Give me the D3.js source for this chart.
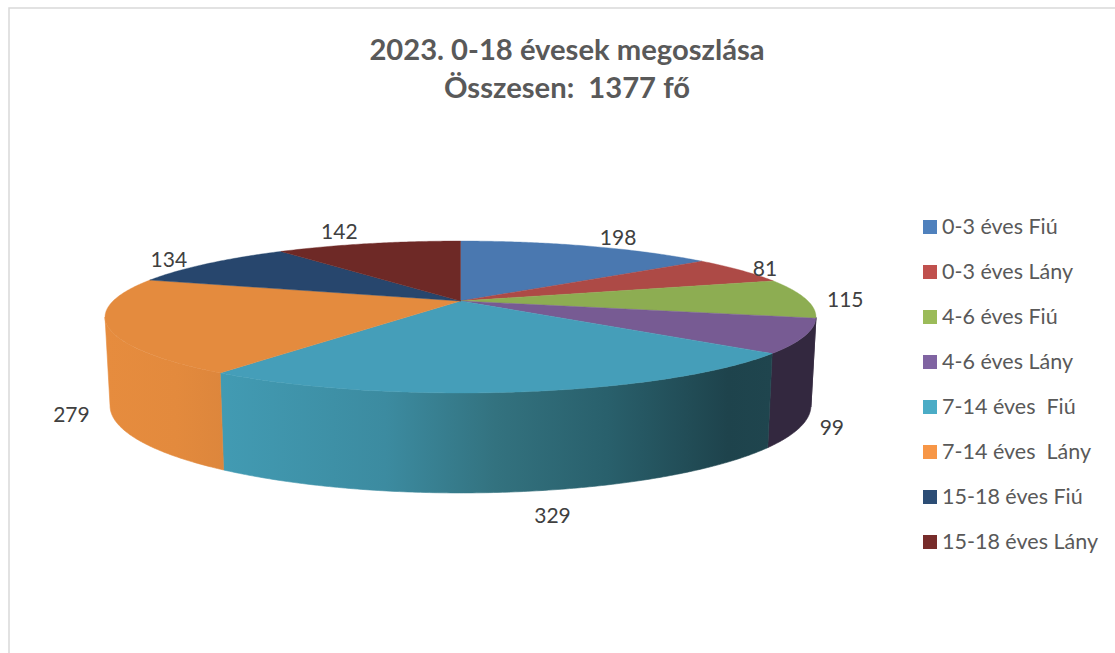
<!DOCTYPE html>
<html lang="hu">
<head>
  <meta charset="UTF-8">
  <title>2023. 0-18 évesek megoszlása</title>
  <script src="https://d3js.org/d3.v7.min.js"></script>
  <style>
    body { background: #fff; margin: 0; }
    svg { display: block; font-family: Lato, "Open Sans", sans-serif; }
    text { white-space: pre; }
    .frame { fill: none; stroke: #d9d9d9; stroke-width: 1.5; }
    .title { font-size: 29.2px; font-weight: 700; fill: #595959; text-anchor: middle; }
    .value { font-size: 21px; fill: #404040; text-anchor: middle; dominant-baseline: central; }
    .legend-label { font-size: 21.5px; fill: #595959; dominant-baseline: central; }
  </style>
</head>
<body>
  <svg width="1115" height="653"></svg>

  <script>
    const categories = ["0-3 éves Fiú", "0-3 éves Lány", "4-6 éves Fiú", "4-6 éves Lány",
      "7-14 éves  Fiú", "7-14 éves  Lány", "15-18 éves Fiú", "15-18 éves Lány"];
    const values = [198, 81, 115, 99, 329, 279, 134, 142];
    const titleLines = ["2023. 0-18 évesek megoszlása", "Összesen:  1377 fő"];

    const topColors = ["#4a78b0", "#ad4a46", "#8dad52", "#775b93", "#459eb9", "#e48b3e", "#27466d", "#6e2926"];
    const legendColors = ["#4f81bd", "#c0504d", "#9bbb59", "#8064a2", "#4bacc6", "#f79646", "#2c4d75", "#772c2a"];

    const svg = d3.select("svg");
    const defs = svg.append("defs");

    // frame of the chart, only top and left are in the shot
    svg.append("path").attr("class", "frame").attr("d", "M9,653V8H1115");

    svg.selectAll(".title")
      .data(titleLines)
      .enter()
      .append("text")
      .attr("class", "title")
      .attr("x", 567)
      .attr("y", (d, i) => 60 + i * 38)
      .text(d => d);

    // Perspective of the pie: far side is squeezed by k
    const k = 0.2105;
    const cx = 460.5;
    const topFace = { a: 347.5, b: 72.6, y0: 301 };
    const bottomFace = { a: 342.6, b: 83.4, y0: 387.3 };
    const project = (face, angle) => {
      const den = 1 + k * Math.cos(angle);
      return [cx + face.a * Math.sin(angle) / den, face.y0 - face.b * Math.cos(angle) / den];
    };

    const slices = d3.pie().sort(null)(values);
    const line = d3.line();
    const color = d3.scaleOrdinal(categories, topColors);

    const arcPoints = (face, a0, a1) => {
      const n = Math.max(2, Math.ceil((a1 - a0) / 0.01));
      return d3.range(n + 1).map(i => project(face, a0 + (a1 - a0) * i / n));
    };

    // Only this part of the rim looks towards the viewer
    const rimStart = Math.acos(-k);
    const rimEnd = 2 * Math.PI - rimStart;

    // Shading of the rim, lit on the left and dark on the right
    const rimFills = { 2: [[0, "#33283f"], [1, "#33283f"]],
      3: [[0, "#33283f"], [1, "#33283f"]],
      4: [[0, "#429bb3"], [0.3, "#3c8ba0"], [0.5, "#33727f"], [0.7, "#29606c"], [0.92, "#1e434c"], [1, "#1f454e"]],
      5: [[0, "#e68c3e"], [0.6, "#e38a3d"], [1, "#dd863c"]] };

    slices.forEach((s, i) => {
      const a0 = Math.max(s.startAngle, rimStart);
      const a1 = Math.min(s.endAngle, rimEnd);
      if (a1 <= a0) return;

      const upper = arcPoints(topFace, a0, a1);
      const lower = arcPoints(bottomFace, a0, a1).reverse();
      const xs = upper.concat(lower).map(p => p[0]);

      const grad = defs.append("linearGradient")
        .attr("id", "rim" + i)
        .attr("gradientUnits", "userSpaceOnUse")
        .attr("x1", d3.min(xs)).attr("x2", d3.max(xs))
        .attr("y1", 0).attr("y2", 0);
      grad.selectAll("stop")
        .data(rimFills[i])
        .enter()
        .append("stop")
        .attr("offset", d => d[0])
        .attr("stop-color", d => d[1]);

      // stroke closes the hairline seam between neighbours
      svg.append("path")
        .attr("d", line(upper.concat(lower)) + "Z")
        .attr("fill", `url(#rim${i})`)
        .attr("stroke", `url(#rim${i})`)
        .attr("stroke-width", 0.6);
    });

    // Top face
    svg.selectAll(".slice")
      .data(slices)
      .enter()
      .append("path")
      .attr("class", "slice")
      .attr("d", s => line([[cx, topFace.y0], ...arcPoints(topFace, s.startAngle, s.endAngle)]) + "Z")
      .attr("fill", (s, i) => color(categories[i]))
      .attr("stroke", (s, i) => color(categories[i]))
      .attr("stroke-width", 0.4);

    // Value labels, hung on the rim at the middle of each slice
    const labelNudge = [[30, -9], [24, -2], [40, 1.5], [32, 0], [31, 24], [-41, -1], [-39, -3.6], [-29, -12.6]];
    svg.selectAll(".value")
      .data(slices)
      .enter()
      .append("text")
      .attr("class", "value")
      .attr("transform", (s, i) => {
        const mid = (s.startAngle + s.endAngle) / 2;
        const front = mid > rimStart && mid < rimEnd;
        const p = project(front ? bottomFace : topFace, mid);
        return `translate(${p[0] + labelNudge[i][0]}, ${p[1] + labelNudge[i][1] - 1})`;
      })
      .text(s => s.value);

    // Legend
    const legendY = d3.scalePoint().domain(categories).range([227, 542]);
    const legend = svg.selectAll(".legend")
      .data(categories)
      .enter()
      .append("g")
      .attr("class", "legend")
      .attr("transform", d => `translate(923, ${legendY(d)})`);

    legend.append("rect")
      .attr("y", -7)
      .attr("width", 14)
      .attr("height", 14)
      .attr("fill", (d, i) => legendColors[i]);

    legend.append("text")
      .attr("class", "legend-label")
      .attr("x", 19)
      .attr("y", -1.5)
      .text(d => d);
  </script>
</body>
</html>
